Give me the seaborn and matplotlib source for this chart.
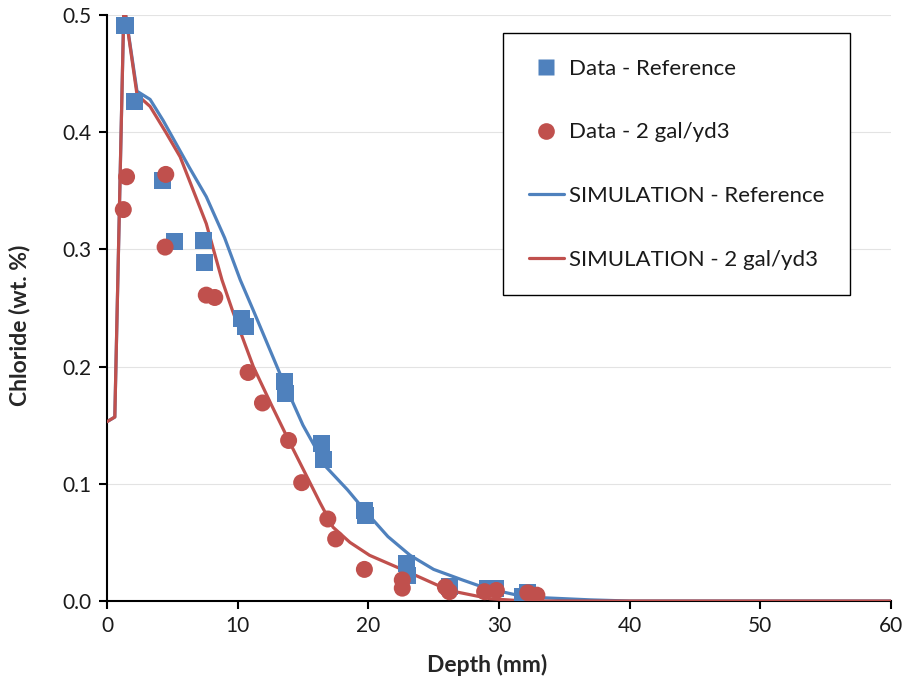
import numpy as np
import pandas as pd
import matplotlib
matplotlib.use("Agg")
import matplotlib.pyplot as plt
import seaborn as sns
from matplotlib.lines import Line2D

# Data - Reference (blue squares)
ref_x = [1.38, 2.14, 4.28, 5.2, 7.35, 7.5, 10.3, 10.6, 13.6, 13.7, 16.4, 16.6, 19.7, 19.8,
         22.9, 23.0, 26.2, 29.1, 29.7, 31.8, 32.2]
ref_y = [0.491, 0.426, 0.359, 0.307, 0.308, 0.289, 0.241, 0.234, 0.187, 0.177, 0.134, 0.121,
         0.077, 0.073, 0.032, 0.022, 0.012, 0.011, 0.011, 0.0035, 0.007]

# Data - 2 gal/yd3 (red circles)
gal_x = [1.25, 1.5, 4.45, 4.5, 7.6, 8.25, 10.8, 11.9, 13.9, 14.9, 16.9, 17.5, 19.7,
         22.6, 22.6, 25.9, 26.2, 28.9, 29.8, 32.2, 32.9]
gal_y = [0.334, 0.362, 0.302, 0.364, 0.261, 0.259, 0.195, 0.169, 0.137, 0.101, 0.070, 0.053, 0.027,
         0.018, 0.011, 0.012, 0.008, 0.008, 0.009, 0.007, 0.005]

# SIMULATION - Reference
sim_ref_x = [0, 0.6, 1.3, 2.3, 3.3, 4.3, 5.3, 6.3, 7.6, 9.0, 10.2, 11.2, 13.2, 15.0, 16.8,
             18.4, 19.9, 21.5, 23.2, 25.0, 27.2, 29.0, 31.4, 33.0, 37.0, 40.0, 60.0]
sim_ref_y = [0.153, 0.157, 0.51, 0.435, 0.428, 0.41, 0.39, 0.37, 0.345, 0.31, 0.274, 0.248,
             0.195, 0.15, 0.114, 0.095, 0.075, 0.055, 0.039, 0.027, 0.018, 0.011, 0.005,
             0.003, 0.001, 0.0, 0.0]

# SIMULATION - 2 gal/yd3
sim_gal_x = [0, 0.6, 1.3, 2.3, 3.3, 4.5, 5.6, 7.6, 8.8, 9.6, 11.2, 12.6, 14.0, 16.3, 17.3,
             18.6, 20.1, 23.2, 26.2, 29.3, 32.0, 60.0]
sim_gal_y = [0.153, 0.157, 0.51, 0.432, 0.422, 0.40, 0.379, 0.322, 0.274, 0.248, 0.2, 0.167,
             0.135, 0.084, 0.063, 0.05, 0.039, 0.024, 0.009, 0.002, 0.0, 0.0]

x_ticks = [0, 10, 20, 30, 40, 50, 60]
y_ticks = [0.0, 0.1, 0.2, 0.3, 0.4, 0.5]

BLUE = "#4F81BD"
RED = "#C0504D"

sns.set_style("white")
plt.rcParams['font.family'] = ['Lato', 'DejaVu Sans']

fig = plt.figure(figsize=(9.08, 6.83), dpi=100)
ax = fig.add_axes([0.1178, 0.12, 0.8635, 0.858])

for y in y_ticks[1:]:
    ax.axhline(y, color="#e3e3e3", lw=0.8, zorder=0)

sns.lineplot(x=sim_ref_x, y=sim_ref_y, ax=ax, color=BLUE, lw=2.3, sort=False,
             estimator=None, zorder=2)
sns.lineplot(x=sim_gal_x, y=sim_gal_y, ax=ax, color=RED, lw=2.3, sort=False,
             estimator=None, zorder=3)
sns.scatterplot(x=ref_x, y=ref_y, ax=ax, marker="s", s=150, color=BLUE, edgecolor="none",
                zorder=4)
sns.scatterplot(x=gal_x, y=gal_y, ax=ax, marker="o", s=150, color=RED, edgecolor="none",
                zorder=5)

ax.set_xlim(0, 60)
ax.set_ylim(0, 0.5)
ax.set_xticks(x_ticks)
ax.set_yticks(y_ticks)
ax.set_xticklabels([str(v) for v in x_ticks], fontsize=15, color="#1a1a1a")
ax.set_yticklabels([f"{v:.1f}" for v in y_ticks], fontsize=15, color="#1a1a1a")
ax.tick_params(axis="both", direction="out", length=6, width=1.5, color="black", pad=5)
ax.xaxis.set_ticks_position("bottom")
ax.yaxis.set_ticks_position("left")
for s in ["top", "right"]:
    ax.spines[s].set_visible(False)
for s in ["left", "bottom"]:
    ax.spines[s].set_color("black")
    ax.spines[s].set_linewidth(1.5)
ax.set_xlabel("Depth (mm)", fontsize=16.5, fontweight="bold", va="center", ha="center")
ax.set_ylabel("Chloride (wt. %)", fontsize=16.5, fontweight="bold", va="center", ha="center")
ax.xaxis.set_label_coords(0.4847, -0.109)
ax.yaxis.set_label_coords(-0.111, 0.471)

handles = [
    Line2D([], [], ls="none", marker="s", ms=12, color=BLUE, mec="none"),
    Line2D([], [], ls="none", marker="o", ms=12, color=RED, mec="none"),
    Line2D([], [], color=BLUE, lw=2.3),
    Line2D([], [], color=RED, lw=2.3),
]
labels = ["Data - Reference", "Data - 2 gal/yd3", "SIMULATION - Reference", "SIMULATION - 2 gal/yd3"]
leg = fig.legend(handles, labels, loc="upper left", bbox_to_anchor=(0.554, 0.9517),
                 borderaxespad=0.0,
                 fontsize=16, frameon=True, fancybox=False, framealpha=1,
                 edgecolor="black", labelspacing=1.97, borderpad=1.15,
                 handlelength=1.6, handletextpad=0.2)
leg.get_frame().set_linewidth(1.0)
for t in leg.get_texts():
    t.set_color("#1a1a1a")

fig.savefig("out.png", dpi=100)
